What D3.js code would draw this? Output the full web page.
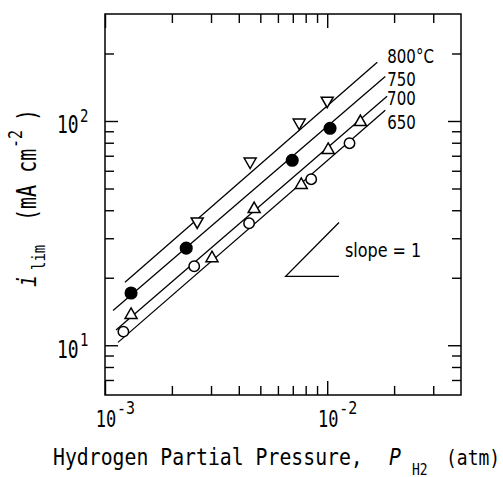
<!DOCTYPE html>
<html>
<head>
<meta charset="utf-8">
<script src="https://cdn.jsdelivr.net/npm/d3@7/dist/d3.min.js"></script>
<style>
  body { margin: 0; background: #fff; }
  svg { display: block; }
</style>
</head>
<body>
<div id="chart"></div>
<script>
// data (P in atm, i_lim in mA cm^-2)
const temps = ["800", "750", "700", "650"];
const markers = ["triDown", "dot", "triUp", "circle"];

const p800 = [2.60e-3, 4.50e-3, 7.48e-3, 10.0e-3];
const i800 = [35.0, 64.8, 96.7, 121];
const p750 = [1.31e-3, 2.32e-3, 6.96e-3, 10.3e-3];
const i750 = [17.1, 27.1, 66.8, 92.8];
const p700 = [1.31e-3, 3.03e-3, 4.69e-3, 7.64e-3, 10.1e-3, 14.1e-3];
const i700 = [13.9, 24.9, 41.2, 52.8, 75.6, 100.7];
const p650 = [1.21e-3, 2.52e-3, 4.45e-3, 8.47e-3, 12.6e-3];
const i650 = [11.5, 22.5, 35.0, 55.0, 79.6];

// fitted lines, end points
const fitP = [[1.23e-3, 16.8e-3], [1.087e-3, 18.25e-3], [1.121e-3, 18.6e-3], [1.144e-3, 18.25e-3]];
const fitI = [[19.1, 182.7], [14.3, 158], [11.7, 128.9], [10.3, 111.6]];

// slope = 1 guide
const slopeP = [6.5e-3, 11.3e-3];
const slopeI0 = 20.3;

const xMajor = [1e-3, 1e-2];
const xMinor = [2e-3, 3e-3, 4e-3, 5e-3, 6e-3, 7e-3, 8e-3, 9e-3, 2e-2, 3e-2];
const yMajor = [10, 100];
const yMinor = [7, 8, 9, 20, 30, 40, 50, 60, 70, 80, 90, 200];
const xTickExp = ["-3", "-2"];
const yTickExp = ["1", "2"];

const W = 503, H = 477;
const mLeft = 105, mRight = 461, mTop = 14, mBottom = 395;
const mono = "'DejaVu Sans Mono', monospace";
const sans = "'DejaVu Sans', sans-serif";

const svg = d3.select("#chart").append("svg")
    .attr("width", W)
    .attr("height", H);

const x = d3.scaleLog().domain([1e-3, 4e-2]).range([mLeft, mRight]);
const y = d3.scaleLog().domain([6, 300]).range([mBottom, mTop]);

// ticks, all pointing inwards
function tickAxis(axis, pos, vals, size) {
    const g = svg.append("g")
        .attr("transform", pos)
        .call(axis.tickValues(vals).tickSize(-size).tickFormat(""));
    g.select(".domain").remove();
    g.selectAll("line").attr("stroke", "#000").attr("stroke-width", 1.4);
}
tickAxis(d3.axisBottom(x), `translate(0,${mBottom})`, xMinor, 9);
tickAxis(d3.axisBottom(x), `translate(0,${mBottom})`, xMajor, 14);
tickAxis(d3.axisTop(x), `translate(0,${mTop})`, xMinor, 9);
tickAxis(d3.axisTop(x), `translate(0,${mTop})`, xMajor, 14);
tickAxis(d3.axisLeft(y), `translate(${mLeft},0)`, yMinor, 9);
tickAxis(d3.axisLeft(y), `translate(${mLeft},0)`, yMajor, 13);
tickAxis(d3.axisRight(y), `translate(${mRight},0)`, yMinor, 9);
tickAxis(d3.axisRight(y), `translate(${mRight},0)`, yMajor, 13);

svg.append("rect")
    .attr("x", mLeft).attr("y", mTop)
    .attr("width", mRight - mLeft).attr("height", mBottom - mTop)
    .attr("fill", "none").attr("stroke", "#000").attr("stroke-width", 1.5);

// text helper: fonts in the figure are tall and narrow
function label(px, py, k) {
    return svg.append("text")
        .attr("transform", `translate(${px},${py}) scale(1,${k})`)
        .attr("fill", "#000");
}

// tick labels, 10 with exponent
xMajor.forEach((v, i) => {
    label(x(v) + 1, 427, 1.35).attr("font-family", mono).attr("font-size", 17)
        .attr("text-anchor", "middle").text("10");
    label(x(v) + 12, 414, 1.2).attr("font-family", mono).attr("font-size", 15).text(xTickExp[i]);
});
yMajor.forEach((v, i) => {
    label(57, y(v) + 12.5, 1.35).attr("font-family", mono).attr("font-size", 18).text("10");
    label(80, y(v) + 1, 1.2).attr("font-family", mono).attr("font-size", 14).text(yTickExp[i]);
});

// x title
const xt = label(53, 465, 1.2).attr("font-family", mono).attr("font-size", 19.8);
xt.append("tspan").text("Hydrogen Partial Pressure,");
xt.append("tspan").attr("x", 336).attr("font-style", "italic").text("P");
xt.append("tspan").attr("x", 359).attr("dy", 8).attr("font-size", 13).text("H2");
xt.append("tspan").attr("x", 393).attr("dy", -8).attr("font-size", 18).text("(atm)");

// y title, rotated
const yt = svg.append("text")
    .attr("transform", "translate(36,287) rotate(-90) scale(1,1.3)")
    .attr("font-family", mono).attr("font-size", 20).attr("fill", "#000");
yt.append("tspan").attr("x", 0).attr("font-style", "italic").text("i");
yt.append("tspan").attr("x", 17).attr("dy", 7).attr("font-size", 14).text("lim");
yt.append("tspan").attr("x", 66).attr("dy", -7).text("(mA cm");
yt.append("tspan").attr("x", 139).attr("dy", -11).attr("font-size", 15).text("-2");
yt.append("tspan").attr("x", 166).attr("dy", 11).text(")");

// fitted lines
const line = d3.line().x(d => x(d[0])).y(d => y(d[1]));
fitP.forEach((ps, i) => {
    svg.append("path")
        .attr("d", line(ps.map((p, j) => [p, fitI[i][j]])))
        .attr("fill", "none").attr("stroke", "#000").attr("stroke-width", 1.3);
});

// temperature labels next to line ends
const labelDx = [10, 2, 0, 2];
const labelDy = [1, 10, 9, 19];
temps.forEach((t, i) => {
    const lx = x(fitP[i][1]) + labelDx[i];
    const ly = y(fitI[i][1]) + labelDy[i];
    label(lx, ly, 1.25).attr("font-family", sans).attr("font-size", 15)
        .text(i === 0 ? t + "\u00b0C" : t);
});

// data markers
const series = [[p800, i800], [p750, i750], [p700, i700], [p650, i650]];
const tri = (w, h, up) => up
    ? `M0,${-h / 2}L${w / 2},${h / 2}L${-w / 2},${h / 2}Z`
    : `M0,${h / 2}L${w / 2},${-h / 2}L${-w / 2},${-h / 2}Z`;
series.forEach(([ps, is], i) => {
    const pts = ps.map((p, j) => [p, is[j]]);
    const g = svg.append("g");
    const m = markers[i];
    if (m === "dot" || m === "circle") {
        g.selectAll("circle").data(pts).join("circle")
            .attr("cx", d => x(d[0])).attr("cy", d => y(d[1]))
            .attr("r", m === "dot" ? 5.8 : 5.2)
            .attr("fill", m === "dot" ? "#000" : "#fff")
            .attr("stroke", "#000").attr("stroke-width", 1.5);
    } else {
        g.selectAll("path").data(pts).join("path")
            .attr("transform", d => `translate(${x(d[0])},${y(d[1])})`)
            .attr("d", tri(12, 10.5, m === "triUp"))
            .attr("fill", "#fff").attr("stroke", "#000").attr("stroke-width", 1.5)
            .attr("stroke-linejoin", "miter");
    }
});

// slope = 1 guide triangle (two sides only)
const sx0 = slopeP[0], sx1 = slopeP[1];
const sy1 = slopeI0 * sx1 / sx0;
svg.append("path")
    .attr("d", `M${x(sx1)},${y(slopeI0)}L${x(sx0)},${y(slopeI0)}L${x(sx1)},${y(sy1)}`)
    .attr("fill", "none").attr("stroke", "#000").attr("stroke-width", 1.3);
label(x(sx1) + 6, y(slopeI0) - 19, 1.2).attr("font-family", sans).attr("font-size", 16)
    .text("slope = 1");
</script>
</body>
</html>
